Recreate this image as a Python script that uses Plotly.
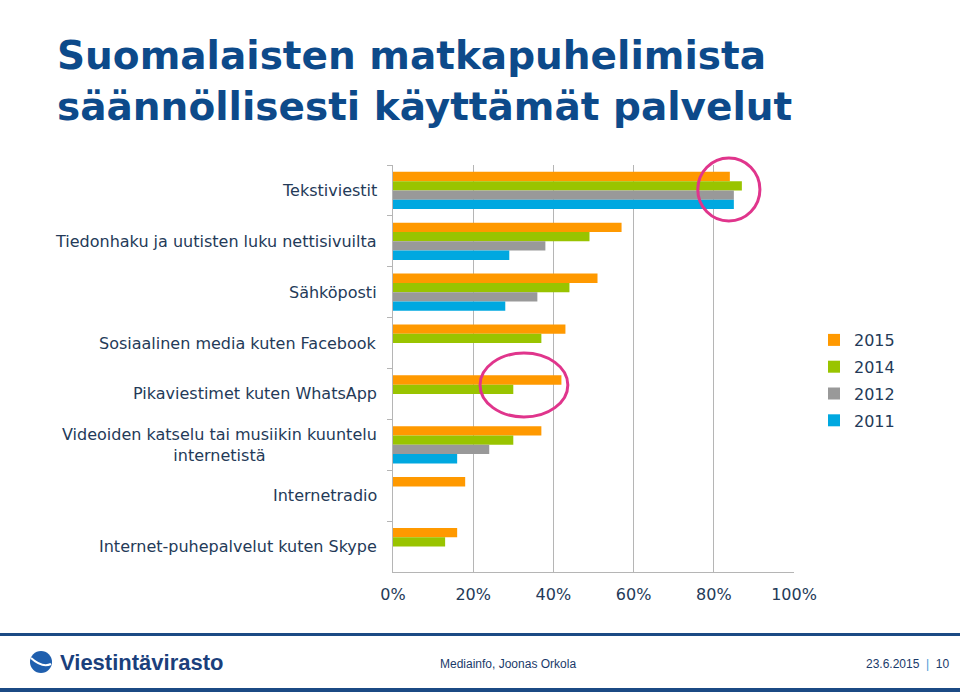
import plotly.graph_objects as go

categories = [
    "Tekstiviestit",
    "Tiedonhaku ja uutisten luku nettisivuilta",
    "Sähköposti",
    "Sosiaalinen media kuten Facebook",
    "Pikaviestimet kuten WhatsApp",
    "Videoiden katselu tai musiikin kuuntelu<br>internetistä",
    "Internetradio",
    "Internet-puhepalvelut kuten Skype",
]
years = ["2015", "2014", "2012", "2011"]
v2015 = [84, 57, 51, 43, 42, 37, 18, 16]
v2014 = [87, 49, 44, 37, 30, 30, None, 13]
v2012 = [85, 38, 36, None, None, 24, None, None]
v2011 = [85, 29, 28, None, None, 16, None, None]
series = [v2015, v2014, v2012, v2011]
colors = ["#ff9900", "#99c400", "#999999", "#00a8e0"]
xticks = [0, 20, 40, 60, 80, 100]
xticklabels = ["0%", "20%", "40%", "60%", "80%", "100%"]

# plot area in pixels (960x692 page)
L, R, T, B = 393, 794, 165, 572


def px(x):
    return (x - L) / (R - L)


def py(y):
    return (B - y) / (B - T)


navy = "#0d4a8a"
label_col = "#243a58"

fig = go.Figure()
for i, (name, vals) in enumerate(zip(years, series)):
    fig.add_trace(
        go.Bar(
            y=categories,
            x=vals,
            name=name,
            orientation="h",
            marker=dict(color=colors[i], line=dict(width=0)),
            legendgroup=name,
        )
    )

annotations = []
for c in categories:
    annotations.append(
        dict(
            x=0, xref="paper", xanchor="right", xshift=-14,
            y=c, yref="y", yanchor="middle",
            text=c, showarrow=False, align="center",
            font=dict(family="DejaVu Sans", size=16, color=label_col),
        )
    )

# title
annotations.append(
    dict(x=px(55), y=py(31), xref="paper", yref="paper", xanchor="left", yanchor="top",
         text="<b>Suomalaisten matkapuhelimista<br>säännöllisesti käyttämät palvelut</b>",
         showarrow=False, align="left",
         font=dict(family="DejaVu Sans", size=39, color=navy))
)

# footer
annotations += [
    dict(x=px(58), y=py(662), xref="paper", yref="paper", xanchor="left", yanchor="middle",
         text="<b>Viestintävirasto</b>", showarrow=False,
         font=dict(family="Liberation Sans", size=22, color="#1b3f7c")),
    dict(x=px(438), y=py(664), xref="paper", yref="paper", xanchor="left", yanchor="middle",
         text="Mediainfo, Joonas Orkola", showarrow=False,
         font=dict(family="Liberation Sans", size=12, color="#1a3a6a")),
    dict(x=px(952), y=py(664), xref="paper", yref="paper", xanchor="right", yanchor="middle",
         text="23.6.2015  <span style='color:#4a9ad8'>|</span>  10", showarrow=False,
         font=dict(family="Liberation Sans", size=12, color="#1a3a6a")),
]

shapes = [
    # highlight ellipses
    dict(type="circle", xref="x", yref="paper", x0=76, x1=91.5, y0=py(221), y1=py(158),
         line=dict(color="#e0358c", width=3)),
    dict(type="circle", xref="x", yref="paper", x0=21.7, x1=43.6, y0=py(417), y1=py(353),
         line=dict(color="#e0358c", width=3)),
    # footer lines
    dict(type="rect", xref="paper", yref="paper", x0=px(0), x1=px(960), y0=py(636), y1=py(633),
         line=dict(width=0), fillcolor="#1b4a84"),
    dict(type="rect", xref="paper", yref="paper", x0=px(0), x1=px(960), y0=py(692), y1=py(688),
         line=dict(width=0), fillcolor="#1b4a84"),
    # logo globe
    dict(type="circle", xref="paper", yref="paper", x0=px(30), x1=px(52), y0=py(673), y1=py(651),
         line=dict(width=0), fillcolor="#1f5fae"),
    dict(type="path", xref="paper", yref="paper",
         path="M %f %f Q %f %f %f %f" % (px(31), py(658), px(42), py(668), px(51), py(664)),
         line=dict(color="white", width=2)),
]

fig.update_layout(
    width=960,
    height=692,
    paper_bgcolor="white",
    plot_bgcolor="white",
    margin=dict(l=L, r=960 - R, t=T, b=692 - B),
    barmode="group",
    bargap=0.27,
    bargroupgap=0,
    xaxis=dict(
        range=[0, 100],
        tickvals=xticks,
        ticktext=xticklabels,
        showgrid=True,
        gridcolor="#b5b5b5",
        gridwidth=1,
        showline=True,
        linecolor="#b5b5b5",
        zeroline=False,
        ticks="",
        ticklabelstandoff=8,
        tickfont=dict(family="DejaVu Sans", size=16, color=label_col),
        fixedrange=True,
    ),
    yaxis=dict(
        autorange="reversed",
        showticklabels=False,
        showline=True,
        linecolor="#b5b5b5",
        ticks="outside",
        tickson="boundaries",
        ticklen=5,
        tickcolor="#b5b5b5",
        showgrid=False,
    ),
    legend=dict(
        x=px(814), y=py(323), xanchor="left", yanchor="top",
        traceorder="grouped",
        tracegroupgap=3,
        itemwidth=30,
        font=dict(family="DejaVu Sans", size=16, color=label_col),
        bgcolor="rgba(0,0,0,0)",
    ),
    annotations=annotations,
    shapes=shapes,
)

fig.write_html(
    "out.html",
    config={"displayModeBar": False},
    post_script="document.body.style.margin='0';document.body.style.overflow='hidden';",
)
